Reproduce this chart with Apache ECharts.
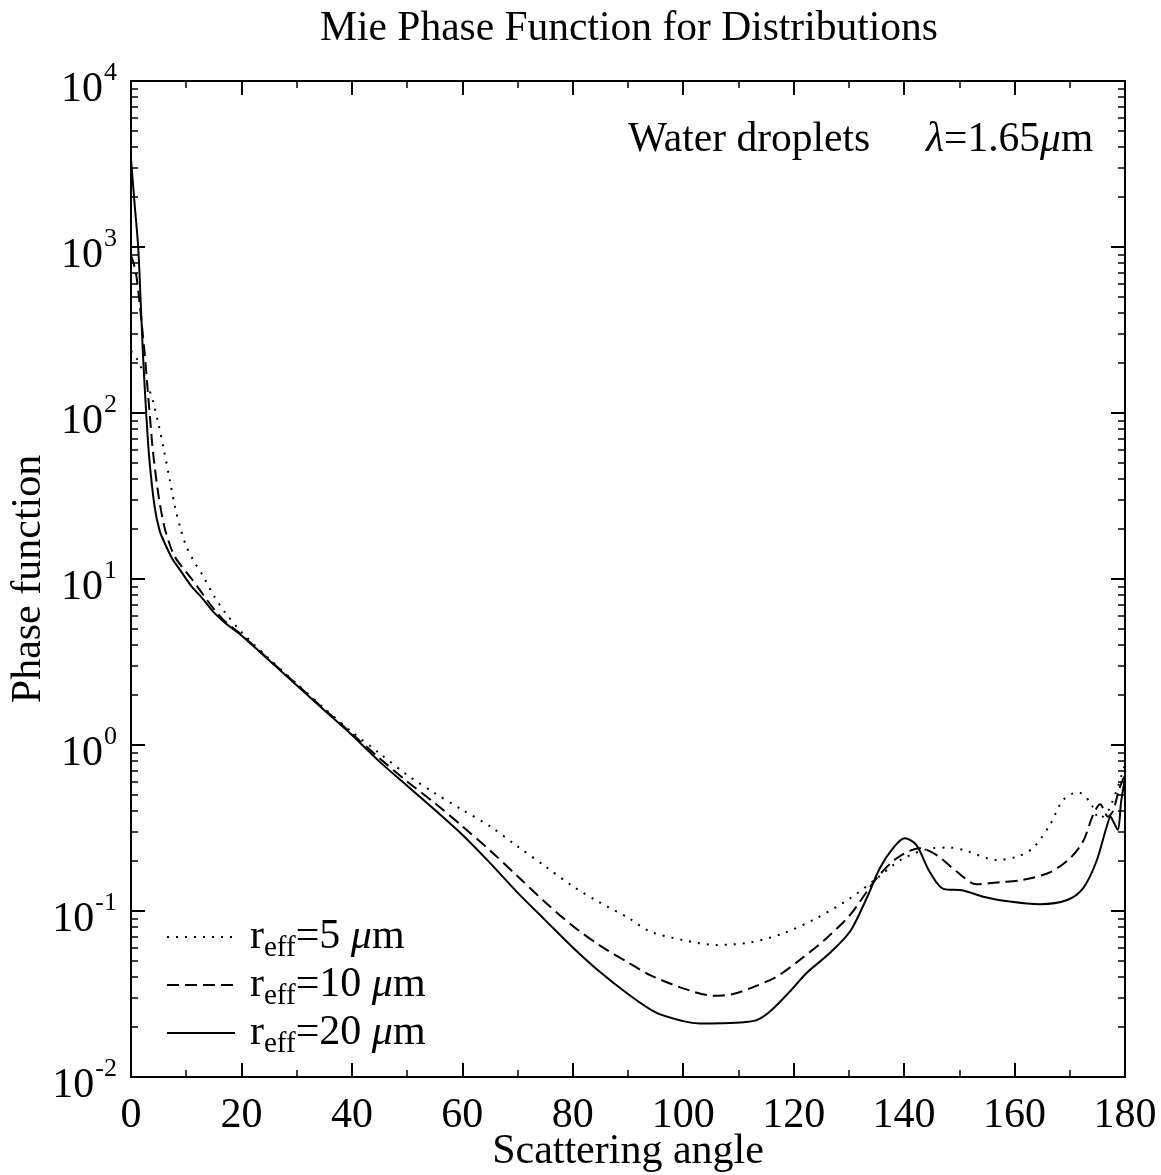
<!DOCTYPE html>
<html><head><meta charset="utf-8">
<script src="https://cdn.jsdelivr.net/npm/echarts@6/dist/echarts.min.js"></script>
<style>html,body{margin:0;padding:0;background:#fff}#c{width:1161px;height:1175px}</style>
</head><body><div id="c"></div>
<script>
// ---- data ----
const xTickValues = [0, 20, 40, 60, 80, 100, 120, 140, 160, 180];
const yTickExponents = [-2, -1, 0, 1, 2, 3, 4];
const yMinorMultipliers = [2, 3, 4, 5, 6, 7, 8, 9];

const angles5 = [0,1,2,3,4,5,6,7,8,9,10,11.5,13,15,17,20,25,30,35,40,45,50,55,60,65,70,75,80,85,90,94,100,106,112.1,118.1,124.1,130.2,135,139.8,145.2,148.3,151.3,156.7,160.3,163.3,166.4,168.8,171.5,173.6,175.4,177.2,180];
const phase5 = [236,214,182,148,117,85.1,58.9,39.8,26.9,20.0,15.8,12.6,10.5,7.94,6.31,4.79,3.31,2.34,1.66,1.20,0.891,0.660,0.513,0.407,0.324,0.245,0.186,0.141,0.112,0.0912,0.0752,0.0668,0.0624,0.0646,0.0733,0.0904,0.119,0.157,0.207,0.239,0.241,0.230,0.203,0.212,0.239,0.330,0.467,0.519,0.456,0.361,0.415,0.76];

const angles10 = [0,0.5,1,1.5,2,2.5,3,3.5,4,5,6,7,8,10,11,13,15,17,20,25,30,35,40,45,50,55,60,65,70,75,80,85,90,94,100,105.4,109,112.1,116.9,121.1,125.9,130.2,135,138.6,142.8,145.9,149.5,153.1,157.3,161.5,166.4,170,172.4,174.2,175.5,176.9,177.8,179,180];
const phase10 = [891,794,661,479,331,224,141,89.1,57.5,31.6,20.9,16.2,13.5,11.0,10.0,8.1,6.6,5.56,4.62,3.27,2.32,1.64,1.17,0.832,0.603,0.447,0.324,0.232,0.162,0.113,0.0813,0.0617,0.0490,0.0411,0.0342,0.0309,0.0316,0.0342,0.0402,0.0507,0.0684,0.0946,0.157,0.207,0.239,0.217,0.173,0.145,0.149,0.154,0.171,0.207,0.262,0.378,0.440,0.370,0.398,0.550,0.66];

const angles20 = [0,0.7,1.3,1.8,2.2,2.7,3.3,4.3,5.2,6.2,7.5,8.6,10,11,13,15,17,20,25,30,35,40,45,50,55,60,65,70,75,80,85,90,95,100,103,107,111,113.3,115.7,119.3,122.3,126.5,130.2,133.2,135.6,138,140.1,142.2,144.6,147.1,150.7,154.3,159.1,164.6,169.4,172.4,174.8,176.6,177.4,177.9,178.7,179.3,180];
const phase20 = [3390,1740,1000,432,214,107,53.7,26.9,19.5,16.2,13.2,11.7,10.0,9.0,7.6,6.3,5.45,4.57,3.24,2.29,1.62,1.15,0.794,0.569,0.407,0.288,0.195,0.129,0.0881,0.0603,0.0427,0.0316,0.0245,0.0217,0.0210,0.0211,0.0214,0.0220,0.0248,0.0327,0.0422,0.0556,0.0752,0.119,0.181,0.239,0.274,0.250,0.173,0.136,0.133,0.122,0.114,0.110,0.116,0.137,0.198,0.315,0.370,0.345,0.308,0.456,0.63];

const seriesNames = ['5', '10', '20'];

// ---- build ----
const FONT = 'Liberation Serif';
const yMinorExp = [];
yTickExponents.slice(0, -1).forEach(e => yMinorMultipliers.forEach(m => yMinorExp.push(e + Math.log10(m))));

const pairs = (xs, ys) => xs.map((x, i) => [x, ys[i]]);

const chart = echarts.init(document.getElementById('c'), null, {renderer: 'canvas'});

const gridBox = {left: 131, right: 36, top: 81, bottom: 98, containLabel: false, outerBoundsMode: 'none'};
const axisLineStyle = {color: '#000', width: 2};
const xCommon = {
  type: 'value', min: 0, max: 180, interval: 20, gridIndex: 0,
  axisLine: {show: true, onZero: false, lineStyle: axisLineStyle},
  axisTick: {show: true, inside: true, length: 14, lineStyle: {color: '#000', width: 2}},
  minorTick: {show: true, splitNumber: 2, length: 7, lineStyle: {color: '#000', width: 1.5}},
  splitLine: {show: false}, minorSplitLine: {show: false}
};
const yMinorAxis = (pos) => ({
  type: 'value', min: -2, max: 4, position: pos, gridIndex: 1,
  axisLine: {show: false, onZero: false},
  axisTick: {show: true, inside: true, length: 7, customValues: yMinorExp, lineStyle: {color: '#000', width: 1.5}},
  axisLabel: {show: false}, splitLine: {show: false}
});
const yMajor = (pos, labels) => ({
  type: 'log', logBase: 10, min: 0.01, max: 10000, position: pos, gridIndex: 0,
  axisLine: {show: true, onZero: false, lineStyle: axisLineStyle},
  axisTick: {show: true, inside: true, length: 14, lineStyle: {color: '#000', width: 2}},
  splitLine: {show: false}, minorTick: {show: false},
  axisLabel: labels ? {
    show: true, margin: 14, padding: [9, 0, 0, 0],
    formatter: v => '{b|10}{e|' + Math.round(Math.log10(v)) + '}',
    rich: {
      b: {fontFamily: FONT, fontSize: 42, color: '#000', lineHeight: 42, verticalAlign: 'bottom'},
      e: {fontFamily: FONT, fontSize: 26, color: '#000', lineHeight: 51, verticalAlign: 'top', padding: [0, 0, 0, 1]}
    }
  } : {show: false}
});

const nameRich = {
  a: {fontFamily: FONT, fontSize: 42, color: '#000', lineHeight: 42, verticalAlign: 'top'},
  s: {fontFamily: FONT, fontSize: 29, color: '#000', lineHeight: 29, verticalAlign: 'top', padding: [18, 0, 0, 0]},
  g: {fontFamily: FONT, fontSize: 42, fontStyle: 'italic', color: '#000', lineHeight: 42, verticalAlign: 'top'}
};

const option = {
  backgroundColor: '#fff',
  animation: false,
  title: [
    {text: 'Mie Phase Function for Distributions', left: 624, top: 3, textAlign: 'center',
     textStyle: {fontFamily: FONT, fontSize: 41.5, fontWeight: 'normal', color: '#000'}},
    {text: '{n|Water droplets}{sp|}{i|λ}{n|=1.65}{i|μ}{n|m}', left: 623, top: 114,
     textStyle: {fontWeight: 'normal', rich: {
       n: {fontFamily: FONT, fontSize: 41.5, fontWeight: 'normal', color: '#000'},
       i: {fontFamily: FONT, fontSize: 41.5, fontStyle: 'italic', fontWeight: 'normal', color: '#000'},
       sp: {width: 56}
     }}}
  ],
  grid: [Object.assign({}, gridBox), Object.assign({}, gridBox)],
  legend: {
    show: true, orient: 'vertical', left: 161, top: 911,
    itemWidth: 68, itemHeight: 20, itemGap: 1,
    data: seriesNames.map(n => 'r' + n),
    formatter: name => '{a|r}{s|eff}{a|=' + name.slice(1) + ' }{g|μ}{a|m}',
    itemStyle: {opacity: 0},
    textStyle: {rich: nameRich, padding: [0, 0, 0, 10]},
    selectedMode: false
  },
  xAxis: [
    Object.assign({}, xCommon, {
      position: 'bottom',
      axisLabel: {show: true, margin: 18, fontFamily: FONT, fontSize: 42, color: '#000'},
      name: 'Scattering angle', nameLocation: 'middle', nameGap: 54, nameMoveOverlap: false,
      nameTextStyle: {fontFamily: FONT, fontSize: 42, color: '#000'}
    }),
    Object.assign({}, xCommon, {position: 'top', axisLabel: {show: false}}),
    {type: 'value', min: 0, max: 180, gridIndex: 1, show: false}
  ],
  yAxis: [
    Object.assign(yMajor('left', true), {
      name: 'Phase function', nameLocation: 'middle', nameGap: 81, nameRotate: 90, nameMoveOverlap: false,
      nameTextStyle: {fontFamily: FONT, fontSize: 42, color: '#000'}
    }),
    yMajor('right', false),
    yMinorAxis('left'),
    yMinorAxis('right')
  ],
  series: [
    {name: 'r5', type: 'line', xAxisIndex: 0, yAxisIndex: 0, data: pairs(angles5, phase5), showSymbol: false, symbol: 'none', smooth: 0.3,
     lineStyle: {color: '#000', width: 2, type: [2, 7]}, itemStyle: {color: '#000'}},
    {name: 'r10', type: 'line', xAxisIndex: 0, yAxisIndex: 0, data: pairs(angles10, phase10), showSymbol: false, symbol: 'none', smooth: 0.3,
     lineStyle: {color: '#000', width: 2, type: [12, 6]}, itemStyle: {color: '#000'}},
    {name: 'r20', type: 'line', xAxisIndex: 0, yAxisIndex: 0, data: pairs(angles20, phase20), showSymbol: false, symbol: 'none', smooth: 0.3,
     lineStyle: {color: '#000', width: 2, type: 'solid'}, itemStyle: {color: '#000'}}
  ]
};
chart.setOption(option);
</script></body></html>
